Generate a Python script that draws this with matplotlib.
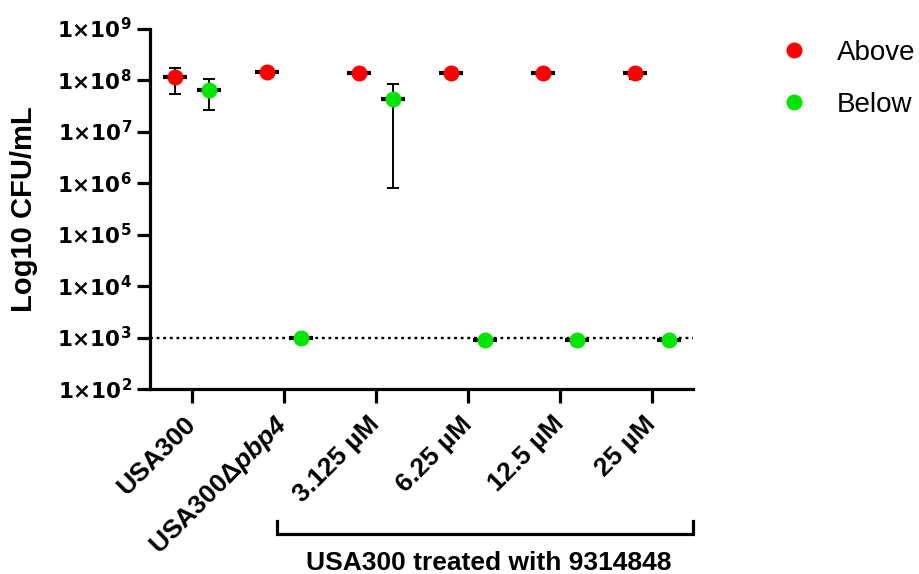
import matplotlib
matplotlib.use("Agg")
import matplotlib.pyplot as plt
import numpy as np
from matplotlib.transforms import blended_transform_factory

plt.rcParams['font.family'] = ['Liberation Sans', 'DejaVu Sans']
plt.rcParams['mathtext.fontset'] = 'custom'
plt.rcParams['mathtext.rm'] = 'DejaVu Sans'
plt.rcParams['mathtext.bf'] = 'DejaVu Sans:bold'
plt.rcParams['mathtext.it'] = 'Liberation Sans:italic'
plt.rcParams['mathtext.bfit'] = 'Liberation Sans:italic:bold'

categories = ['USA300', r'USA300Δ$\mathbfit{pbp4}$', '3.125 µM', '6.25 µM', '12.5 µM', '25 µM']
above_mean = [1.14e8, 1.40e8, 1.38e8, 1.38e8, 1.38e8, 1.36e8]
above_low = [5.4e7, 1.35e8, 1.33e8, 1.33e8, 1.33e8, 1.05e8]
above_high = [1.70e8, 1.45e8, 1.43e8, 1.43e8, 1.43e8, 1.42e8]
below_mean = [6.4e7, 1.0e3, 4.3e7, 8.8e2, 8.8e2, 8.8e2]
below_low = [2.6e7, 1.0e3, 7.9e5, 8.6e2, 8.6e2, 8.6e2]
below_high = [1.05e8, 1.0e3, 8.4e7, 9.0e2, 9.0e2, 9.0e2]
yticks = [1e2, 1e3, 1e4, 1e5, 1e6, 1e7, 1e8, 1e9]
ytick_labels = [r'$\mathbf{1×10^{%d}}$' % e for e in range(2, 10)]
detection_limit = 1e3
bracket_label = 'USA300 treated with 9314848'

RED = '#ff0000'
GREEN = '#00e600'

fig = plt.figure(figsize=(9.19, 5.74), dpi=100)
ax = fig.add_axes([150 / 919, 1 - 389 / 574, 543 / 919, 360.5 / 574])

x = np.arange(len(categories))
off = 0.185

def draw(xs, mean, low, high, color, label):
    mean = np.array(mean); low = np.array(low); high = np.array(high)
    yerr = np.vstack([mean - low, high - mean])
    ax.errorbar(xs, mean, yerr=yerr, fmt='none', ecolor='black', elinewidth=1.4,
                capsize=4.3, capthick=1.4, zorder=2)
    ax.plot(xs, mean, linestyle='none', marker='_', markersize=17.5,
            markeredgewidth=3, color='black', zorder=3)
    ax.plot(xs, mean, linestyle='none', marker='o', markersize=11.5,
            color=color, markeredgewidth=0, zorder=4, label=label)

ax.axhline(detection_limit, color='black', linestyle=(0, (1.2, 1.6)), linewidth=1.7, zorder=1)
draw(x - off, above_mean, above_low, above_high, RED, 'Above')
draw(x + off, below_mean, below_low, below_high, GREEN, 'Below')

ax.set_yscale('log')
ax.set_ylim(1e2, 1e9)
ax.set_xlim(-0.457, 5.446)
ax.set_yticks(yticks)
ax.set_yticklabels(ytick_labels, fontsize=15.5)
ax.yaxis.set_minor_locator(matplotlib.ticker.NullLocator())
ax.set_xticks(x)
ax.set_xticklabels(categories, rotation=45, ha='right', va='center',
                   rotation_mode='anchor', fontsize=19, fontweight='bold')
for s in ['top', 'right']:
    ax.spines[s].set_visible(False)
for s in ['left', 'bottom']:
    ax.spines[s].set_linewidth(2.3)
ax.tick_params(axis='y', which='major', direction='out', length=9.5, width=2.3, pad=3.5)
ax.tick_params(axis='x', which='major', direction='out', length=10, width=2.3, pad=12.5)
ax.set_ylabel('Log10 CFU/mL', fontsize=21, fontweight='bold', va='center')
ax.yaxis.set_label_coords(-0.232, 0.5)

ax.legend(loc='upper left', bbox_to_anchor=(769 / 919, 1 - 29 / 574),
          bbox_transform=fig.transFigure, frameon=False,
          fontsize=20, handletextpad=1.05, labelspacing=0.92,
          handlelength=1.0, borderaxespad=0)

# bracket below treatment groups
tr = blended_transform_factory(ax.transData, fig.transFigure)
xb0 = 0.92
xb1 = 5.446
yb = 1 - 533.5 / 574
ytop = 1 - 521 / 574
ax.plot([xb0, xb0, xb1, xb1], [ytop, yb, yb, ytop], transform=tr, color='black',
        linewidth=2.3, clip_on=False, solid_joinstyle='miter')
fig.text(488.5 / 919, 1 - 563 / 574, bracket_label, ha='center', va='center',
         fontsize=19, fontweight='bold')

fig.savefig('out.png', dpi=100)
